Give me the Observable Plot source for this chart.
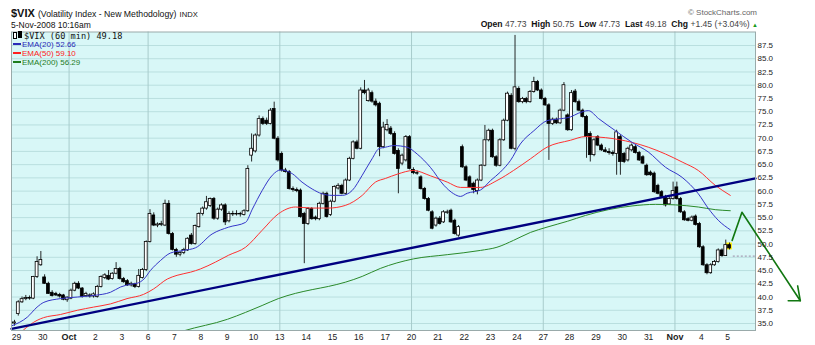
<!DOCTYPE html>
<html><head><meta charset="utf-8">
<script src="https://cdn.jsdelivr.net/npm/d3@7"></script>
<script src="https://cdn.jsdelivr.net/npm/@observablehq/plot@0.6"></script>
<style>
body{margin:0;background:#fff;font-family:"Liberation Sans",Arial,sans-serif;}
#wrap{position:relative;width:815px;height:345px;overflow:hidden;}
.abs{position:absolute;white-space:nowrap;line-height:1;}
</style></head><body><div id="wrap"></div>
<script>
// ---- hourly candles (Sep 29 .. Nov 5 2008), 7 bars per session ----
const open = [35.0,36.8,39.0,39.6,39.8,39.7,43.8, 46.0,43.7,42.5,40.8,40.6,40.4,40.3, 39.4,39.7,41.2,42.5,41.6,40.2,40.3,
 40.1,40.0,41.9,43.6,44.0,43.4,44.4, 45.3,43.4,43.0,42.2,42.4,41.9,43.6, 45.1,50.4,55.4,53.5,53.6,53.5,57.6,
 51.9,48.9,48.0,48.3,48.8,51.6,50.0, 53.2,55.7,56.7,57.2,58.5,54.8,56.5, 57.3,54.3,55.7,55.6,55.7,55.5,56.2,
 66.7,67.5,70.5,73.6,73.3,72.7,75.5, 69.9,67.0,63.9,63.6,60.4,60.2,60.1, 55.7,53.8,56.6,55.0,54.7,57.6,59.5,
 55.5,58.0,60.5,61.0,59.5,62.0,66.1, 69.2,68.0,79.0,77.0,78.5,76.9,76.5, 68.3,71.5,71.8,70.8,67.6,65.2,65.8,
 70.2,64.0,63.4,62.6,60.4,58.5,56.0, 53.5,54.8,54.1,55.9,56.3,54.4,51.6, 68.3,64.5,62.6,61.4,60.0,62.0,64.8,
 69.6,71.4,66.4,64.8,69.6,73.3,78.0, 68.0,79.3,76.8,77.4,76.8,78.7,80.6, 79.0,77.4,76.2,72.7,73.5,72.8,75.2,
 74.3,71.5,78.8,76.8,75.2,74.0,70.8, 66.8,70.2,68.6,67.7,67.4,67.2,67.0, 70.2,67.0,65.8,67.7,68.3,67.2,66.4,
 64.8,63.5,63.3,61.0,59.8,58.9,57.5, 58.5,60.7,58.5,56.0,54.7,54.4,55.2, 53.8,49.4,46.0,44.5,46.0,46.6,48.8,
 47.73,49.8];
const high = [35.6,39.3,40.0,40.3,40.2,43.9,47.6, 48.6,44.2,42.8,41.2,40.9,40.7,40.5, 40.0,41.5,42.8,42.9,41.8,40.9,40.6,
 40.8,42.2,44.0,44.4,45.0,44.6,46.5, 45.6,43.7,43.3,42.8,42.6,45.2,45.4, 50.6,56.5,55.9,54.0,54.3,58.3,58.2,
 52.2,49.2,48.6,49.2,51.2,52.0,53.6, 55.9,57.0,59.0,58.7,58.8,56.8,57.6, 57.6,56.1,56.2,56.3,56.0,56.5,64.8,
 70.8,70.8,74.2,74.0,73.8,75.6,76.8, 70.3,67.4,64.3,63.9,60.8,60.6,60.4, 56.0,56.9,56.9,55.3,57.9,59.8,59.8,
 58.3,61.0,61.4,61.3,62.3,66.4,69.5, 69.6,79.5,80.9,79.4,78.9,77.4,76.8, 73.0,73.5,72.2,71.2,68.0,67.0,70.5,
 70.5,64.4,63.8,62.9,60.7,58.8,56.3, 55.1,55.2,56.3,56.4,56.6,54.7,53.5, 68.7,64.8,62.9,61.7,62.3,65.0,72.4,
 71.7,71.7,66.7,69.9,73.6,78.7,78.4, 89.4,79.7,77.7,77.7,79.0,81.5,80.9, 79.3,77.7,76.5,73.8,73.8,75.5,80.5,
 74.6,79.0,79.2,77.2,75.5,74.3,71.2, 69.9,70.5,68.9,68.2,68.0,67.6,71.5, 70.6,67.3,68.3,68.9,68.6,67.5,66.7,
 65.1,63.8,63.6,61.3,60.1,59.2,58.8, 61.7,61.7,58.8,56.3,55.0,55.3,55.5, 54.1,49.7,46.3,46.3,46.9,49.1,49.1,
 50.75,50.2];
const low = [34.5,36.4,38.8,39.3,39.4,39.5,43.5, 45.8,42.4,40.5,40.0,40.1,39.8,39.3, 39.0,39.5,41.0,41.4,39.8,39.9,39.8,
 39.8,39.8,41.7,43.3,43.1,43.2,44.2, 43.2,42.6,42.0,41.9,41.6,41.7,43.4, 44.8,50.2,53.3,53.1,53.3,53.3,51.7,
 48.7,47.5,47.6,48.0,48.6,49.8,49.8, 53.0,55.3,56.4,56.9,54.5,54.5,56.2, 53.5,54.0,55.2,55.3,55.1,55.3,56.0,
 65.5,67.2,70.2,72.4,72.4,72.5,69.7, 65.5,63.6,63.4,60.2,59.8,59.7,54.9, 46.3,53.5,54.5,54.4,54.4,57.4,54.9,
 55.2,57.8,60.2,59.3,59.3,61.8,65.9, 67.8,67.8,78.2,76.8,76.6,75.9,66.5, 68.0,71.2,70.5,66.8,59.5,64.8,65.5,
 64.0,63.1,63.0,60.2,58.3,56.1,52.7, 53.2,53.6,53.9,55.6,53.9,51.7,51.3, 64.3,61.8,60.5,59.5,59.3,61.8,64.6,
 69.3,66.2,64.5,64.6,69.4,73.1,67.8, 67.6,76.6,76.5,76.5,76.6,78.5,78.8, 77.2,76.0,65.8,72.4,72.6,72.6,75.0,
 71.3,71.3,76.6,75.0,73.8,66.2,65.5, 66.5,68.4,67.5,67.2,66.8,66.6,63.0, 63.0,65.2,65.5,67.4,67.0,65.6,65.0,
 62.8,62.8,59.6,59.3,58.7,57.0,57.3, 58.3,58.3,55.8,54.3,54.2,54.2,53.4, 49.2,45.8,44.2,44.3,45.8,46.4,47.5,
 47.73,48.9];
const close = [35.2,39.0,39.6,39.8,39.7,43.8,46.6, 47.0,42.5,40.6,40.2,40.3,40.1,39.5, 39.9,41.2,42.5,41.6,40.0,40.6,40.1,
 40.5,41.9,43.8,44.1,43.3,44.4,45.3, 43.4,42.8,42.2,42.5,41.9,44.0,45.1, 50.4,55.7,53.5,53.7,53.8,57.6,51.9,
 48.9,48.0,48.3,48.9,51.0,50.0,53.4, 55.7,56.7,57.9,58.5,54.8,56.5,57.3, 54.1,55.7,55.6,55.7,55.6,56.2,64.2,
 68.0,70.5,73.6,72.7,72.7,75.2,69.9, 65.8,63.9,63.6,60.4,60.2,60.0,55.1, 53.8,56.6,54.7,54.7,57.6,59.5,55.1,
 58.0,60.8,61.0,59.5,62.0,66.1,69.2, 68.0,79.0,78.5,79.0,76.9,76.2,68.3, 72.0,72.5,70.8,67.0,64.2,66.7,70.2,
 64.2,63.4,63.3,60.4,58.5,56.3,52.9, 54.8,53.8,56.0,56.0,54.1,51.9,53.2, 64.5,62.0,60.7,60.2,62.0,64.8,69.6,
 71.4,66.4,64.8,69.6,73.3,78.4,68.0, 79.6,76.8,77.4,76.8,78.7,80.6,79.0, 77.4,76.2,72.7,73.5,72.8,75.2,80.0,
 71.5,78.5,76.8,75.2,74.0,70.2,66.8, 69.6,68.6,67.7,67.4,67.2,67.0,71.1, 65.5,65.5,68.0,68.6,67.2,65.8,65.2,
 63.0,63.0,59.8,59.5,58.9,57.3,58.5, 60.0,58.5,56.0,54.5,54.4,55.0,53.6, 49.4,46.0,44.5,46.0,46.6,48.8,47.73,
 49.8,49.18];

// ---- moving averages (bar index, value) ----
const ema20Idx = [-0.6,3.4,6.0,7.8,12.2,16.7,21.1,25.5,28.2,30.8,32.6,34.4,36.1,38.8,41.4,44.9,48.1,52.5,56.9,61.4,63.2,65.8,68.5,70.7,73.8,76.4,79.1,81.7,84.4,87.1,89.7,92.4,95.0,96.8,98.6,100.8,104.3,107.0,110.5,114.1,116.7,118.5,120.3,123.8,126.5,129.1,131.8,134.4,138.0,141.5,144.2,147.7,149.8,152.5,155.2,159.7,164.1,168.4,173.0,177.4,181.7,184.4,187.0,190.2];
const ema20Val = [34.6,36.2,38.1,39.0,39.7,40.0,40.3,40.9,41.9,42.4,42.6,43.4,45.0,46.9,48.3,48.8,49.3,51.9,53.2,54.1,56.6,60.1,63.0,64.0,63.3,61.7,60.4,59.5,59.2,59.2,60.1,63.0,66.1,68.0,68.3,68.6,68.3,67.0,64.5,61.1,59.5,59.0,59.6,60.2,62.0,63.6,65.8,68.9,71.4,73.3,73.6,74.0,74.7,75.2,73.7,71.4,69.2,67.4,64.5,62.6,59.5,56.7,54.5,52.7];
const ema50Idx = [2.4,6.0,7.7,12.2,16.7,21.0,25.5,29.9,34.3,36.9,40.6,43.2,46.8,49.4,53.4,56.9,61.4,65.8,70.1,74.7,79.1,83.4,87.9,92.4,95.9,98.6,101.7,106.0,110.5,115.0,118.5,123.8,128.2,132.6,137.1,141.5,147.7,151.7,157.0,164.1,168.4,173.0,177.4,181.7,186.2,190.2];
const ema50Val = [33.8,35.6,36.1,36.7,37.5,38.1,38.7,39.7,40.5,41.5,43.4,44.1,44.7,45.3,46.6,47.9,49.4,52.6,55.7,57.0,56.8,56.8,57.3,59.2,61.7,62.4,63.2,63.9,62.9,61.7,60.7,60.7,62.0,63.9,66.1,68.3,69.6,70.3,70.1,69.2,68.3,67.0,65.5,63.9,61.1,59.2];
const ema200Idx = [41.4,44.9,56.6,61.4,65.8,70.1,74.7,79.1,83.4,87.9,92.4,97.2,106.0,115.0,123.8,128.2,132.6,137.1,141.5,146.9,151.7,157.8,164.1,170.3,175.6,181.7,186.2,190.2];
const ema200Val = [32.8,33.6,35.8,37.1,38.4,39.7,40.7,41.4,42.0,42.8,43.9,45.4,47.2,48.0,48.8,49.4,50.7,52.2,53.2,54.3,55.4,56.5,57.2,57.5,57.4,57.0,56.5,56.3];

// ---- annotations ----
const trendIdx = [-0.8, 196.9];
const trendVal = [34.0, 62.4];
const arrowIdx = [190.7, 193.3, 208.8];
const arrowVal = [50.7, 56.0, 39.3];
const headIdx = [205.6, 208.8, 208.1];
const headVal = [39.3, 39.3, 42.1];
const prevClose = 47.73;

// ---- axes ----
const dayLabels = ["29","30","Oct","2","3","6","7","8","9","10","13","14","15","16","17","20","21","22","23","24","27","28","29","30","31","Nov","4","5"];
const barsPerDay = 7;
const weekLineDays = [2,5,10,15,20,25]; // Oct 1 and each Monday
const yTicks = d3.range(35, 87.6, 2.5);

const bars = close.map((c, i) => ({i, o: open[i], h: high[i], l: low[i], c}));
const last = bars[bars.length - 1];
const pts = (ix, v) => ix.map((x, k) => ({x, y: v[k]}));
const tickPos = dayLabels.map((_, d) => d * barsPerDay + 0.5);
const labelAt = new Map(tickPos.map((p, d) => [p, dayLabels[d]]));
const isMonth = s => /[A-Za-z]/.test(s);
const regPos = tickPos.filter(p => !isMonth(labelAt.get(p)));
const boldPos = tickPos.filter(p => isMonth(labelAt.get(p)));

const chart = Plot.plot({
  width: 815, height: 345,
  marginLeft: 11, marginRight: 60, marginTop: 31.5, marginBottom: 15,
  x: {domain: [-0.8, 196.9], axis: null},
  y: {domain: [33.68, 90.05], axis: null},
  style: {background: "transparent", fontFamily: "Liberation Sans, Arial, sans-serif", color: "#222"},
  marks: [
    Plot.frame({fill: "#d8f7f7"}),
    Plot.ruleY(yTicks, {stroke: "#b9dfdf", strokeWidth: 1}),
    Plot.ruleX(weekLineDays.map(d => d * barsPerDay + 0.5), {stroke: "#a8cccc", strokeWidth: 1}),
    Plot.rect([last], {x1: d => d.i - 0.75, x2: d => d.i + 0.75, y1: "l", y2: "h", fill: "#ffee00"}),
    Plot.ruleX(bars, {x: "i", y1: "l", y2: "h", stroke: "#111", strokeWidth: 0.9}),
    Plot.rect(bars, {x1: d => d.i - 0.38, x2: d => d.i + 0.38, y1: "o", y2: "c",
      fill: d => d.c >= d.o ? "#ffffff" : "#000000", stroke: "#000", strokeWidth: 0.8}),
    Plot.line(pts(ema200Idx, ema200Val), {x: "x", y: "y", stroke: "#2a8a2a", strokeWidth: 1, curve: "monotone-x", clip: true}),
    Plot.line(pts(ema50Idx, ema50Val), {x: "x", y: "y", stroke: "#ff3030", strokeWidth: 1, curve: "monotone-x", clip: true}),
    Plot.line(pts(ema20Idx, ema20Val), {x: "x", y: "y", stroke: "#3535c8", strokeWidth: 1, curve: "monotone-x", clip: true}),
    Plot.line(pts(trendIdx, trendVal), {x: "x", y: "y", stroke: "#000080", strokeWidth: 2.4}),
    Plot.ruleY([prevClose], {x1: 191, x2: 196.9, stroke: "#9a8aa6", strokeDasharray: "2,2", strokeWidth: 1}),
    Plot.frame({stroke: "#9aa"}),
    Plot.line(pts(arrowIdx, arrowVal), {x: "x", y: "y", stroke: "#117711", strokeWidth: 1.6}),
    Plot.line(pts(headIdx, headVal), {x: "x", y: "y", stroke: "#117711", strokeWidth: 1.6}),
    Plot.axisY({anchor: "right", ticks: yTicks, tickFormat: d => d.toFixed(1), tickSize: 0, tickPadding: 2, fontSize: 8, label: null}),
    Plot.axisX(regPos, {anchor: "bottom", tickFormat: d => labelAt.get(d), tickSize: 0, tickPadding: 3, fontSize: 8.5, label: null}),
    Plot.axisX(boldPos, {anchor: "bottom", tickFormat: d => labelAt.get(d), tickSize: 0, tickPadding: 3, fontSize: 9, fontWeight: "bold", label: null})
  ]
});
const wrap = document.getElementById("wrap");
chart.style.position = "absolute"; chart.style.left = "0"; chart.style.top = "0";
wrap.appendChild(chart);

function add(html, css) {
  const d = document.createElement("div");
  d.className = "abs"; d.innerHTML = html; Object.assign(d.style, css); wrap.appendChild(d);
}
add('<b style="font-size:11px">$VIX</b> <span style="font-size:8.7px">(Volatility Index - New Methodology)</span> <span style="font-size:7.6px">INDX</span>',
    {left: "11px", top: "8px", fontSize: "11px", color: "#111"});
add('5-Nov-2008 10:16am', {left: "11px", top: "20.5px", fontSize: "8.5px", color: "#111"});
add('&copy; StockCharts.com', {right: "58px", top: "9px", fontSize: "8px", color: "#666"});
add('<b>Open</b> <span style="color:#444">47.73</span> &nbsp;<b>High</b> <span style="color:#444">50.75</span> &nbsp;<b>Low</b> <span style="color:#444">47.73</span> &nbsp;<b>Last</b> <span style="color:#444">49.18</span> &nbsp;<b>Chg</b> <span style="color:#444">+1.45 (+3.04%)</span> <span style="color:#1a9a1a;font-size:6px">&#9650;</span>',
    {right: "57px", top: "20px", fontSize: "8.6px", color: "#111"});
add('<span style="display:inline-block;width:2px;height:5px;border:1px solid #000;background:#fff;vertical-align:0px;margin-right:1px"></span><span style="display:inline-block;width:2px;height:5px;background:#000;border:1px solid #000;vertical-align:1px;margin-right:2px"></span>$VIX (60 min) 49.18',
    {left: "13px", top: "31px", fontSize: "8.6px", fontFamily: '"DejaVu Sans Mono", monospace', color: "#111"});
const leg = [["EMA(20) 52.66", "#2a2ab8", 40.5], ["EMA(50) 59.10", "#ff2020", 49.5], ["EMA(200) 56.29", "#1e7d1e", 58.5]];
leg.forEach(([t, c, y]) => add('<span style="display:inline-block;width:8px;height:2px;background:' + c + ';vertical-align:2px;margin-right:1px"></span>' + t,
    {left: "13px", top: y + "px", fontSize: "8px", color: c}));
</script></body></html>
